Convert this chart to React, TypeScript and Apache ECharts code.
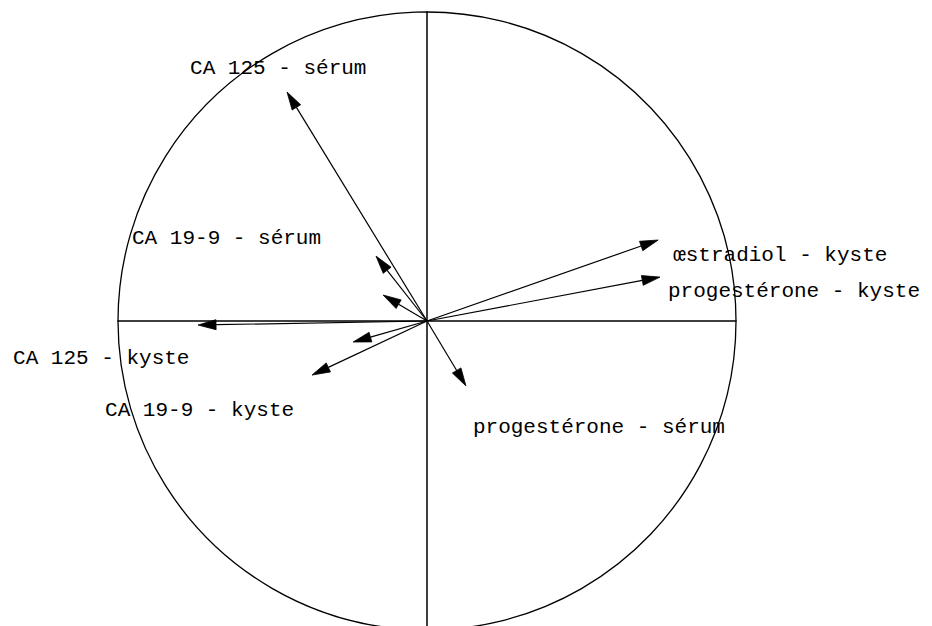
import React, { useEffect, useRef } from "react";
import * as echarts from "echarts";

// Variables of the correlation circle (first factorial plane)
const variables = [
  "CA 125 - sérum",
  "CA 19-9 - sérum",
  "",
  "CA 125 - kyste",
  "CA 19-9 - kyste",
  "",
  "œstradiol - kyste",
  "progestérone - kyste",
  "progestérone - sérum",
];

// Correlations with the first axis (horizontal)
const factor1 = [-0.453, -0.165, -0.142, -0.741, -0.372, -0.239, 0.748, 0.754, 0.126];

// Correlations with the second axis (vertical)
const factor2 = [0.741, 0.21, 0.084, -0.013, -0.175, -0.068, 0.262, 0.142, -0.21];

// Label placement relative to each arrow tip, in pixels
const LABEL_OFFSETS: ([number, number] | null)[] = [
  [-97, -24],
  [-244, -18],
  null,
  [-185, 33],
  [-207, 35],
  null,
  [15, 15],
  [8, 14],
  [7, 42],
];

const FONT = "21px 'Liberation Mono', 'Courier New', monospace";

export default function App() {
  const ref = useRef<HTMLDivElement>(null);

  useEffect(() => {
    if (!ref.current) return;
    const chart = echarts.init(ref.current, null, { renderer: "svg" });

    const arrowData = variables.map((name, i) => [factor1[i], factor2[i], i]);

    const axisCommon = {
      type: "value" as const,
      min: -1,
      max: 1,
      axisLine: { show: true, onZero: true, lineStyle: { color: "#000", width: 1.5 } },
      axisTick: { show: false },
      axisLabel: { show: false },
      splitLine: { show: false },
    };

    chart.setOption({
      animation: false,
      backgroundColor: "#fff",
      grid: { left: 118, top: 12, width: 618, height: 618 },
      xAxis: axisCommon,
      yAxis: axisCommon,
      series: [
        {
          type: "custom",
          silent: true,
          clip: false,
          data: [[0, 0]],
          renderItem: (params: any, api: any) => {
            const c = api.coord([0, 0]);
            const r = api.size([1, 1])[0];
            return {
              type: "circle",
              shape: { cx: c[0], cy: c[1], r },
              style: { fill: "none", stroke: "#000", lineWidth: 1.3 },
            };
          },
        },
        {
          type: "custom",
          silent: true,
          clip: false,
          data: arrowData,
          renderItem: (params: any, api: any) => {
            const idx = params.dataIndex;
            const p0 = api.coord([0, 0]);
            const p1 = api.coord([api.value(0), api.value(1)]);
            const dx = p1[0] - p0[0];
            const dy = p1[1] - p0[1];
            const len = Math.sqrt(dx * dx + dy * dy) || 1;
            const ux = dx / len;
            const uy = dy / len;
            const head = 18;
            const hw = 5;
            const bx = p1[0] - ux * head;
            const by = p1[1] - uy * head;
            const children: any[] = [
              {
                type: "line",
                shape: { x1: p0[0], y1: p0[1], x2: bx, y2: by },
                style: { stroke: "#000", lineWidth: 1.2 },
              },
              {
                type: "polygon",
                shape: {
                  points: [
                    [p1[0], p1[1]],
                    [bx - uy * hw, by + ux * hw],
                    [bx + uy * hw, by - ux * hw],
                  ],
                },
                style: { fill: "#000", stroke: "#000", lineWidth: 0.8 },
              },
            ];
            const name = variables[idx];
            const off = LABEL_OFFSETS[idx];
            if (name && off) {
              children.push({
                type: "text",
                x: p1[0] + off[0],
                y: p1[1] + off[1],
                style: {
                  text: name,
                  font: FONT,
                  fill: "#000",
                  align: "left",
                  verticalAlign: "middle",
                },
              });
            }
            return { type: "group", children };
          },
        },
      ],
    });

    return () => chart.dispose();
  }, []);

  return (
    <div
      style={{ position: "absolute", left: 0, top: 0, width: 932, height: 626, overflow: "hidden", background: "#fff" }}
    >
      <div ref={ref} style={{ width: 932, height: 640 }} />
    </div>
  );
}
